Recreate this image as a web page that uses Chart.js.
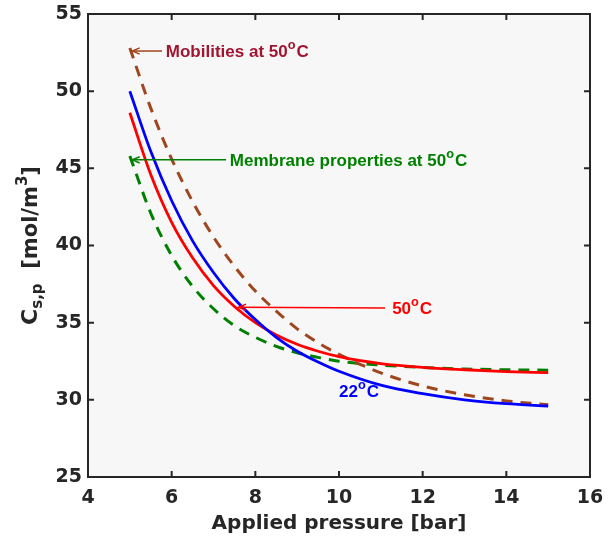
<!DOCTYPE html>
<html>
<head>
<meta charset="utf-8">
<script src="https://cdn.jsdelivr.net/npm/chart.js@4.4.1/dist/chart.umd.min.js"></script>
<style>
  html, body { margin: 0; padding: 0; background: #fff; }
  #wrap { width: 608px; height: 540px; }
</style>
</head>
<body>
<div id="wrap"><canvas id="permeateChart" width="608" height="540"></canvas></div>
<script>
// pressure points (bar) where the curves were read
const pressure = [5, 5.5, 6, 6.5, 7, 7.5, 8, 8.5, 9, 9.5, 10, 11, 12, 13, 14, 15];

// permeate concentration C_s,p (mol/m3)
const at22C = [50.0, 46.1, 42.9, 40.3, 38.25, 36.55, 35.2, 34.05, 33.15, 32.45, 31.85, 30.95, 30.4, 30.0, 29.75, 29.6];
const at50C = [48.6, 44.6, 41.5, 39.2, 37.4, 36.05, 35.0, 34.2, 33.6, 33.15, 32.8, 32.35, 32.1, 31.95, 31.83, 31.76];
const mobilities50C = [52.8, 48.9, 45.6, 42.85, 40.55, 38.65, 37.05, 35.75, 34.6, 33.7, 32.95, 31.75, 30.9, 30.33, 29.93, 29.68];
const membrane50C = [45.8, 42.1, 39.35, 37.35, 35.9, 34.8, 34.05, 33.47, 33.05, 32.75, 32.5, 32.25, 32.1, 32.0, 31.95, 31.92];

const xTicks = [4, 6, 8, 10, 12, 14, 16];
const yTicks = [25, 30, 35, 40, 45, 50, 55];

const axisColor = '#262626';
const brown = '#A0461E';

function toPoints(values) {
    return pressure.map((p, i) => ({ x: p, y: values[i] }));
}

// draw text with a raised "o" like the original 50^oC
function drawRich(ctx, x, y, parts, size, color) {
    ctx.fillStyle = color;
    ctx.textAlign = 'left';
    ctx.textBaseline = 'alphabetic';
    let cx = x;
    parts.forEach(part => {
        const s = part.sup ? size * 0.75 : size;
        ctx.font = 'bold ' + s + 'px "Liberation Sans", Arial, sans-serif';
        ctx.fillText(part.t, cx, part.sup ? y - size * 0.45 : y);
        cx += ctx.measureText(part.t).width + (part.sup ? 1 : 0);
    });
}

function arrow(ctx, x1, y1, x2, y2, color, width) {
    ctx.strokeStyle = color;
    ctx.lineWidth = width;
    ctx.beginPath();
    ctx.moveTo(x1, y1);
    ctx.lineTo(x2, y2);
    ctx.stroke();
    const ang = Math.atan2(y2 - y1, x2 - x1);
    const len = 8;
    ctx.beginPath();
    ctx.moveTo(x2 - len * Math.cos(ang - 0.4), y2 - len * Math.sin(ang - 0.4));
    ctx.lineTo(x2, y2);
    ctx.lineTo(x2 - len * Math.cos(ang + 0.4), y2 - len * Math.sin(ang + 0.4));
    ctx.stroke();
}

const frame = {
    id: 'frame',
    beforeDraw(chart) {
        const { ctx, chartArea: a } = chart;
        ctx.save();
        ctx.fillStyle = '#F7F7F7';
        ctx.fillRect(a.left, a.top, a.right - a.left, a.bottom - a.top);
        ctx.restore();
    },
    afterDraw(chart) {
        const { ctx, chartArea: a, scales } = chart;
        const xs = scales.x, ys = scales.y;
        ctx.save();
        ctx.strokeStyle = axisColor;
        ctx.lineWidth = 2;
        ctx.strokeRect(a.left, a.top, a.right - a.left, a.bottom - a.top);
        ctx.beginPath();
        xTicks.forEach(v => {
            const px = xs.getPixelForValue(v);
            ctx.moveTo(px, a.bottom); ctx.lineTo(px, a.bottom - 6);
            ctx.moveTo(px, a.top); ctx.lineTo(px, a.top + 6);
        });
        yTicks.forEach(v => {
            const py = ys.getPixelForValue(v);
            ctx.moveTo(a.left, py); ctx.lineTo(a.left + 6, py);
            ctx.moveTo(a.right, py); ctx.lineTo(a.right - 6, py);
        });
        ctx.stroke();

        // y axis title with subscript and superscript
        ctx.translate(29, (a.top + a.bottom) / 2);
        ctx.rotate(-Math.PI / 2);
        ctx.fillStyle = axisColor;
        ctx.textBaseline = 'alphabetic';
        const pieces = [
            { t: 'C', s: 22, dy: 0 },
            { t: 's,p', s: 15, dy: 5 },
            { t: '  [mol/m', s: 21, dy: 0 },
            { t: '3', s: 15, dy: -10 },
            { t: ']', s: 21, dy: 0 }
        ];
        let total = 0;
        pieces.forEach(p => {
            ctx.font = 'bold ' + p.s + 'px "DejaVu Sans", sans-serif';
            p.w = ctx.measureText(p.t).width;
            total += p.w;
        });
        let cx = -total / 2;
        pieces.forEach(p => {
            ctx.font = 'bold ' + p.s + 'px "DejaVu Sans", sans-serif';
            ctx.fillText(p.t, cx, 8 + p.dy);
            cx += p.w;
        });
        ctx.restore();

        // annotations
        ctx.save();
        const X = v => xs.getPixelForValue(v);
        const Y = v => ys.getPixelForValue(v);
        arrow(ctx, X(5.77), Y(52.6), X(5.06), Y(52.6), brown, 1.5);
        drawRich(ctx, X(5.86), Y(52.6) + 6, [{ t: 'Mobilities at 50' }, { t: 'o', sup: true }, { t: 'C' }], 17, '#A2142F');
        arrow(ctx, X(7.3), Y(45.55), X(5.06), Y(45.55), '#008000', 1.5);
        drawRich(ctx, X(7.39), Y(45.55) + 6, [{ t: 'Membrane properties at 50' }, { t: 'o', sup: true }, { t: 'C' }], 17, '#008000');
        arrow(ctx, X(11.1), Y(35.95), X(7.6), Y(36.0), '#FF0000', 1.5);
        drawRich(ctx, X(11.27), Y(35.95) + 6, [{ t: '50' }, { t: 'o', sup: true }, { t: 'C' }], 17, '#FF0000');
        drawRich(ctx, X(10.0), Y(30.6) + 6, [{ t: '22' }, { t: 'o', sup: true }, { t: 'C' }], 17, '#0000FF');
        ctx.restore();
    }
};

const lineDefaults = { pointRadius: 0, fill: false, cubicInterpolationMode: 'monotone' };

const ctx = document.getElementById('permeateChart').getContext('2d');
const chart = new Chart(ctx, {
    type: 'line',
    data: {
        datasets: [
            Object.assign({ label: '22 C', data: toPoints(at22C), borderColor: '#0000FF', borderWidth: 2.8 }, lineDefaults),
            Object.assign({ label: '50 C', data: toPoints(at50C), borderColor: '#FF0000', borderWidth: 2.8 }, lineDefaults),
            Object.assign({ label: 'Mobilities at 50 C', data: toPoints(mobilities50C), borderColor: brown, borderWidth: 3, borderDash: [11, 8] }, lineDefaults),
            Object.assign({ label: 'Membrane properties at 50 C', data: toPoints(membrane50C), borderColor: '#008000', borderWidth: 3, borderDash: [11, 8] }, lineDefaults)
        ]
    },
    options: {
        responsive: false,
        animation: false,
        layout: { padding: { top: 14, right: 18, left: 0, bottom: 0 } },
        plugins: {
            legend: { display: false },
            tooltip: { enabled: false }
        },
        scales: {
            x: {
                type: 'linear',
                min: 4,
                max: 16,
                afterBuildTicks: s => { s.ticks = xTicks.map(v => ({ value: v })); },
                afterFit: s => { s.height = 63; s.paddingLeft = 0; s.paddingRight = 0; },
                grid: { display: false, drawTicks: false },
                border: { display: false },
                ticks: { color: axisColor, padding: 10, font: { family: '"DejaVu Sans", sans-serif', size: 19, weight: 'bold' } },
                title: {
                    display: true,
                    text: 'Applied pressure [bar]',
                    color: axisColor,
                    padding: { top: 4 },
                    font: { family: '"DejaVu Sans", sans-serif', size: 20, weight: 'bold' }
                }
            },
            y: {
                min: 25,
                max: 55,
                afterBuildTicks: s => { s.ticks = yTicks.map(v => ({ value: v })); },
                afterFit: s => { s.width = 88; s.paddingTop = 0; s.paddingBottom = 0; },
                grid: { display: false, drawTicks: false },
                border: { display: false },
                ticks: { color: axisColor, padding: 6, font: { family: '"DejaVu Sans", sans-serif', size: 19, weight: 'bold' } }
            }
        }
    },
    plugins: [frame]
});
</script>
</body>
</html>
